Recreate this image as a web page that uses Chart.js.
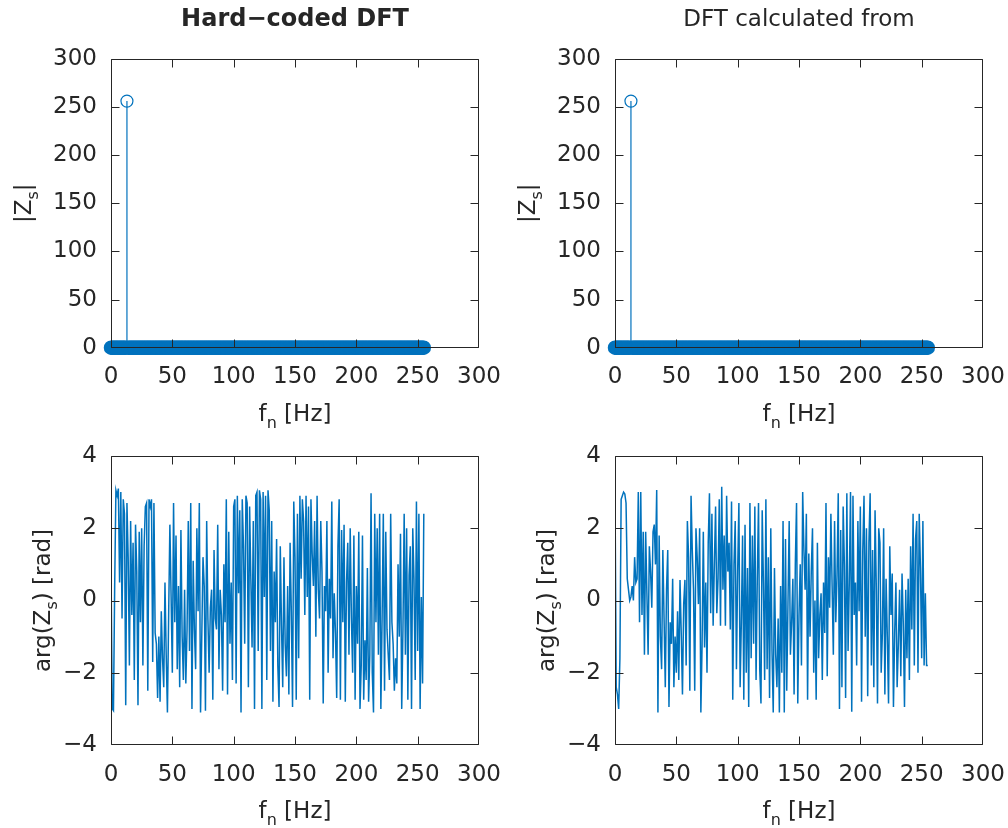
<!DOCTYPE html>
<html>
<head>
<meta charset="utf-8">
<script src="https://cdn.jsdelivr.net/npm/chart.js@4.4.0/dist/chart.umd.min.js"></script>
<style>
  body { margin: 0; background: #fff; width: 1008px; height: 828px; position: relative; overflow: hidden; }
  canvas { position: absolute; }
</style>
</head>
<body>
<canvas id="phaseHardCanvas" width="504" height="414" style="left:0;top:414px"></canvas>
<canvas id="phaseFftCanvas" width="504" height="414" style="left:504px;top:414px"></canvas>
<canvas id="magHardCanvas" width="504" height="440" style="left:0;top:0"></canvas>
<canvas id="magFftCanvas" width="504" height="440" style="left:504px;top:0"></canvas>
<script>
// frequency bins 0..255 Hz
var freqHz = Array.from({ length: 256 }, function (_, i) { return i; });

// |Zs| - one peak at 13 Hz, everything else ~0
var magHard = [
  0,0,0,0,0,0,0,0,0,0,0,0,0,256,0,0, 0,0,0,0,0,0,0,0,0,0,0,0,0,0,0,0,
  0,0,0,0,0,0,0,0,0,0,0,0,0,0,0,0, 0,0,0,0,0,0,0,0,0,0,0,0,0,0,0,0,
  0,0,0,0,0,0,0,0,0,0,0,0,0,0,0,0, 0,0,0,0,0,0,0,0,0,0,0,0,0,0,0,0,
  0,0,0,0,0,0,0,0,0,0,0,0,0,0,0,0, 0,0,0,0,0,0,0,0,0,0,0,0,0,0,0,0,
  0,0,0,0,0,0,0,0,0,0,0,0,0,0,0,0, 0,0,0,0,0,0,0,0,0,0,0,0,0,0,0,0,
  0,0,0,0,0,0,0,0,0,0,0,0,0,0,0,0, 0,0,0,0,0,0,0,0,0,0,0,0,0,0,0,0,
  0,0,0,0,0,0,0,0,0,0,0,0,0,0,0,0, 0,0,0,0,0,0,0,0,0,0,0,0,0,0,0,0,
  0,0,0,0,0,0,0,0,0,0,0,0,0,0,0,0, 0,0,0,0,0,0,0,0,0,0,0,0,0,0,0,0
];
var magFft = [
  0,0,0,0,0,0,0,0,0,0,0,0,0,256,0,0, 0,0,0,0,0,0,0,0,0,0,0,0,0,0,0,0,
  0,0,0,0,0,0,0,0,0,0,0,0,0,0,0,0, 0,0,0,0,0,0,0,0,0,0,0,0,0,0,0,0,
  0,0,0,0,0,0,0,0,0,0,0,0,0,0,0,0, 0,0,0,0,0,0,0,0,0,0,0,0,0,0,0,0,
  0,0,0,0,0,0,0,0,0,0,0,0,0,0,0,0, 0,0,0,0,0,0,0,0,0,0,0,0,0,0,0,0,
  0,0,0,0,0,0,0,0,0,0,0,0,0,0,0,0, 0,0,0,0,0,0,0,0,0,0,0,0,0,0,0,0,
  0,0,0,0,0,0,0,0,0,0,0,0,0,0,0,0, 0,0,0,0,0,0,0,0,0,0,0,0,0,0,0,0,
  0,0,0,0,0,0,0,0,0,0,0,0,0,0,0,0, 0,0,0,0,0,0,0,0,0,0,0,0,0,0,0,0,
  0,0,0,0,0,0,0,0,0,0,0,0,0,0,0,0, 0,0,0,0,0,0,0,0,0,0,0,0,0,0,0,0
];

// arg(Zs) in rad
var phaseHard = [
  1.0, -3.0, -3.05, 0.4, 3.05, 2.9, 3.1, 0.5, 3.0, -0.5, 2.8, 2.4, -2.9, 2.7, 1.2, -1.8,
  2.2, -0.4, 1.6, -2.2, 2.1, 0.8, -2.9, 1.9, -0.6, 2.0, -1.8, 1.5, 2.6, 2.7, -2.5, 2.8,
  2.6, 2.8, -1.7, 2.7, -0.9, -1.2, -2.7, -1.0, -2.8, -0.3, -1.6, -2.4, 0.5, -1.5, -3.1, -0.4,
  2.1, 0.1, -2.0, 2.7, -0.6, 1.8, -1.9, 0.4, -2.4, 1.95, -1.0, -2.2, 0.3, -2.3, -0.8, 2.2,
  -1.4, 2.7, -3.0, 1.1, -0.8, -1.9, 2.0, -0.3, 2.7, -3.1, -1.0, 1.2, 0.4, -3.05, 2.2, -0.5,
  -2.0, -0.2, 0.3, -2.75, 1.4, -0.5, -0.8, 2.1, -1.9, 0.3, -0.4, -2.5, 1.0, -0.6, 2.8, -2.6,
  1.9, -1.2, 0.5, -2.2, 2.6, 2.8, -2.3, 2.9, 0.2, 2.5, -3.1, 2.8, 1.5, -1.2, 2.9, 2.7,
  -2.4, 2.6, 0.6, -1.3, 2.2, -3.0, 2.9, 3.0, -1.4, 3.05, 2.8, -3.0, 3.0, 0.1, 2.9, -2.2,
  3.05, 2.5, -1.4, 2.2, -2.8, 0.8, -0.6, 1.7, -1.8, -2.95, 1.5, -0.7, -2.4, 1.2, -1.2, -2.1,
  0.4, -2.6, 1.6, -0.3, -2.95, 2.74, 1.2, -2.75, 2.4, -1.6, 2.9, 0.6, 2.8, 2.2, -0.4, 2.9,
  0.1, 2.6, -2.75, 2.8, 1.3, 0.4, 2.2, -1.0, 2.9, 0.3, -0.5, 2.2, 0.8, -2.85, 0.4, -0.3,
  2.2, -2.0, 0.6, -0.5, 2.74, -1.6, 0.2, -0.9, -2.7, 1.5, 2.8, -2.75, 1.95, -0.6, 2.1, -2.8,
  0.5, 1.6, -1.5, 2.0, -0.5, -2.0, 1.8, -2.75, 0.4, -1.2, 1.9, -3.0, -1.8, 1.8, -2.75, -1.1,
  -2.2, 0.9, -2.8, -1.5, 2.97, -2.0, -3.1, 2.4, -0.6, 2.0, -1.5, 2.4, -3.0, -0.5, 2.4, -2.5,
  1.9, -0.8, -1.5, -2.2, 2.4, -0.6, -1.2, -2.5, -1.6, -2.3, 1.0, -1.0, 1.85, -3.0, -0.8, 2.4,
  -1.5, 2.0, -2.75, 0.7, 1.5, -3.0, 2.0, 0.6, -2.2, 2.74, -1.4, 2.4, -3.0, 0.1, -2.3, 2.4
];
var phaseFft = [
  3.05, -2.4, -2.6, -3.0, -1.6, 2.8, 2.9, 3.0, 2.95, 2.7, 0.6, 0.3, 0.0, 0.1, 0.4, 0.0,
  1.2, 0.5, 0.6, 3.0, -0.6, 3.0, -0.4, 1.9, -1.5, 1.9, 0.2, -1.5, 1.5, 0.8, -0.2, 1.9,
  2.1, 1.0, 3.06, -3.1, 1.8, -1.0, -1.9, 1.4, -0.5, -2.4, 0.3, 1.4, -2.95, -0.6, -1.2, 0.6,
  -2.4, -1.0, -2.0, -0.3, -2.2, 0.57, -0.9, -2.6, -0.1, 0.57, -1.8, 2.2, 1.2, -2.5, 2.9, 1.4,
  0.3, -2.5, 2.0, 1.2, -0.1, 2.0, -3.1, -1.2, 1.9, -1.3, 0.5, -2.0, 1.6, 2.97, -0.35, 2.4,
  -0.7, 1.0, 2.6, -0.35, 0.6, 2.8, -0.7, 3.15, 0.3, 1.8, -0.7, 2.9, 0.8, 1.6, -0.8, 2.74,
  -2.75, 1.0, 2.2, -1.9, 0.8, 2.7, -2.4, -0.6, 1.8, -2.75, 2.1, -2.0, 0.9, -2.95, 2.7, -1.6,
  1.8, -1.2, 2.6, -2.2, 0.6, 2.7, -1.9, -2.85, 2.5, 0.5, -2.2, 2.8, -1.9, 1.2, -2.7, 2.0,
  -1.4, -3.1, 0.9, -1.5, -2.4, -0.5, -3.1, 0.4, -2.0, 2.2, -3.1, 1.7, -2.5, -0.1, 2.2, -1.5,
  -0.6, 0.6, -2.6, 1.0, 2.7, -2.85, -0.4, 1.0, -1.8, 3.0, 1.4, 0.3, 2.4, -2.75, 1.3, -1.0,
  0.8, 2.0, -2.0, 0.0, -2.75, 1.6, -1.6, -0.4, 0.2, -2.2, 0.5, -0.9, 2.7, -2.1, 1.2, -0.2,
  2.4, 0.4, -1.5, 2.2, -0.6, 0.7, 2.97, -3.0, 1.95, -2.4, 2.6, 1.0, -2.7, 2.97, -1.4, 0.5,
  3.0, -3.08, 2.9, -0.4, 0.5, -1.8, 2.2, -0.3, 2.6, -2.8, 1.4, 2.9, -1.0, 2.0, -2.65, 1.6,
  2.97, -1.8, 1.4, -2.4, 2.5, 0.4, -2.85, 2.0, 1.6, -2.0, -0.9, 2.0, -2.6, 0.6, -1.0, -2.85,
  1.5, -0.4, 0.75, -2.95, -0.9, 0.5, -2.4, -1.2, 0.3, -2.1, 0.75, -0.6, -2.95, 0.3, -1.6, 0.6,
  -2.2, 1.5, -0.8, 2.4, -1.8, 1.7, 2.2, -2.0, 2.4, 0.9, -1.6, 2.2, -1.8, 0.2, -1.8, -1.8
];

var xTicksHz = [0, 50, 100, 150, 200, 250, 300];

var blue = '#0072BD';
var ink = '#262626';
var fontName = '"DejaVu Sans"';

Chart.defaults.font.family = fontName;
Chart.defaults.color = ink;

// text with subscripts: parts = [[text, isSub], ...], centred on x
function drawRich(ctx, parts, x, y, size, bold) {
  var main = (bold ? 'bold ' : '') + size + 'px ' + fontName;
  var sub = Math.round(size * 0.7) + 'px ' + fontName;
  var w = 0;
  parts.forEach(function (p) { ctx.font = p[1] ? sub : main; w += ctx.measureText(p[0]).width; });
  var cx = x - w / 2;
  ctx.textAlign = 'left';
  ctx.textBaseline = 'alphabetic';
  parts.forEach(function (p) {
    ctx.font = p[1] ? sub : main;
    ctx.fillText(p[0], cx, p[1] ? y + size * 0.3 : y);
    cx += ctx.measureText(p[0]).width;
  });
}

// box, inward ticks, title and axis labels (octave look)
var decor = {
  id: 'decor',
  afterDatasetsDraw: function (chart, args, o) {
    var ctx = chart.ctx, a = chart.chartArea, xs = chart.scales.x, ys = chart.scales.y;
    var l = Math.round(a.left) + 0.5, r = Math.round(a.right) - 0.5;
    var t = Math.round(a.top) + 0.5, b = Math.round(a.bottom) - 0.5;
    ctx.save();
    ctx.strokeStyle = ink;
    ctx.lineWidth = 1;
    ctx.beginPath();
    ctx.rect(l, t, r - l, b - t);
    xs.ticks.forEach(function (tk) {
      var px = Math.min(r, Math.max(l, Math.round(xs.getPixelForValue(tk.value)) + 0.5));
      ctx.moveTo(px, b); ctx.lineTo(px, b - 8);
      ctx.moveTo(px, t); ctx.lineTo(px, t + 8);
    });
    ys.ticks.forEach(function (tk) {
      var py = Math.min(b, Math.max(t, Math.round(ys.getPixelForValue(tk.value)) + 0.5));
      ctx.moveTo(l, py); ctx.lineTo(l + 8, py);
      ctx.moveTo(r, py); ctx.lineTo(r - 8, py);
    });
    ctx.stroke();

    ctx.fillStyle = ink;
    var cx = (a.left + a.right) / 2, cy = (a.top + a.bottom) / 2;
    if (o.title) drawRich(ctx, [[o.title, false]], cx, o.titleY, o.titleSize, o.titleBold);
    drawRich(ctx, [['f', false], ['n', true], [' [Hz]', false]], cx, a.bottom + 73, 23, false);
    ctx.translate(o.yLabelX, cy);
    ctx.rotate(-Math.PI / 2);
    drawRich(ctx, o.yParts, 0, 0, 23, false);
    ctx.restore();
  }
};

function makeOptions(o) {
  return {
    responsive: false,
    animation: false,
    devicePixelRatio: 1,
    layout: { padding: { left: 0, right: 25, top: o.top, bottom: 0 } },
    plugins: {
      legend: { display: false },
      tooltip: { enabled: false },
      decor: o.decor
    },
    scales: {
      x: {
        type: 'linear', min: 0, max: 300,
        grid: { display: false, drawTicks: false }, border: { display: false },
        afterBuildTicks: function (s) { s.ticks = xTicksHz.map(function (v) { return { value: v }; }); },
        ticks: { maxRotation: 0, autoSkip: false, padding: 16, color: ink, font: { size: 23 } },
        afterFit: function (s) { s.height = o.xHeight; s.paddingLeft = 0; s.paddingRight = 0; }
      },
      y: {
        type: 'linear', min: o.yMin, max: o.yMax,
        grid: { display: false, drawTicks: false }, border: { display: false },
        ticks: {
          stepSize: o.yStep, padding: 14, color: ink, font: { size: 23 },
          callback: function (v) { return String(v).replace('-', '\u2212'); }
        },
        afterFit: function (s) { s.width = 111; s.paddingTop = 0; s.paddingBottom = 0; }
      }
    }
  };
}

function stemChart(id, mags, title, bold, titleSize) {
  var stems = [];
  mags.forEach(function (v, i) {
    stems.push({ x: freqHz[i], y: 0 }, { x: freqHz[i], y: v }, { x: freqHz[i], y: null });
  });
  var marks = mags.map(function (v, i) { return { x: freqHz[i], y: v }; });
  new Chart(document.getElementById(id), {
    type: 'scatter',
    data: {
      datasets: [
        { data: stems, showLine: true, spanGaps: false, borderColor: blue, borderWidth: 1.2, pointRadius: 0 },
        { data: marks, showLine: false, pointRadius: 6, pointBorderColor: blue,
          // the overlapping markers near zero read as a solid band
          pointBorderWidth: function (c) { return c.raw && c.raw.y > 1 ? 1.2 : 2.5; },
          pointBackgroundColor: 'rgba(0,0,0,0)', clip: false }
      ]
    },
    options: makeOptions({
      top: 58.7, xHeight: 440 - 347.7, yMin: 0, yMax: 300, yStep: 50,
      decor: { title: title, titleBold: bold, titleSize: titleSize, titleY: 26, yLabelX: 31,
               yParts: [['|Z', false], ['s', true], ['|', false]] }
    }),
    plugins: [decor]
  });
}

function phaseChart(id, phases) {
  var pts = phases.map(function (v, i) { return { x: freqHz[i], y: v }; });
  new Chart(document.getElementById(id), {
    type: 'scatter',
    data: {
      datasets: [
        { data: pts, showLine: true, borderColor: blue, borderWidth: 1.5, pointRadius: 0 }
      ]
    },
    options: makeOptions({
      top: 42, xHeight: 83, yMin: -4, yMax: 4, yStep: 2,
      decor: { yLabelX: 50, yParts: [['arg(Z', false], ['s', true], [') [rad]', false]] }
    }),
    plugins: [decor]
  });
}

stemChart('magHardCanvas', magHard, 'Hard\u2212coded DFT', true, 24);
stemChart('magFftCanvas', magFft, 'DFT calculated from', false, 23);
phaseChart('phaseHardCanvas', phaseHard);
phaseChart('phaseFftCanvas', phaseFft);
</script>
</body>
</html>
